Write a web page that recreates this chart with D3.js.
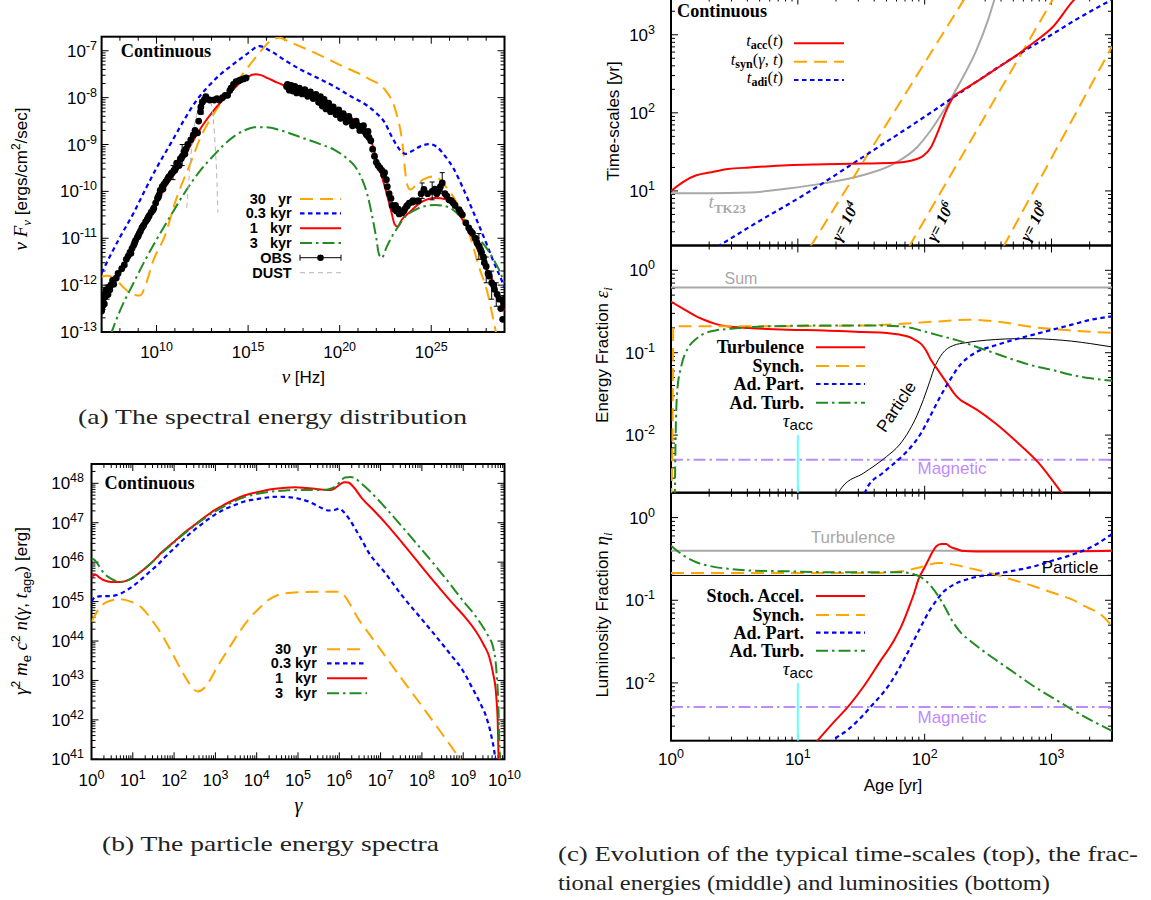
<!DOCTYPE html>
<html><head><meta charset="utf-8">
<script src="https://cdn.jsdelivr.net/npm/d3@7"></script>
<style>body{margin:0;background:#fff}svg{display:block}</style>
</head><body>
<svg id="fig" width="1151" height="900"></svg>
<script>
// ================= DATA (log10 values) =================
// (a) SED: [log10 nu, log10 nuFnu]
const sedLegend = ["30   yr", "0.3 kyr", "1   kyr", "3   kyr", "OBS", "DUST"];
const sed30yr = [[7.0,-11.82],[7.3,-11.8],[7.7,-11.85],[8.2,-12.05],[8.7,-12.2],[9.1,-12.22],[9.4,-12.0],[9.8,-11.5],[10.5,-10.9],[11.0,-10.25],[11.9,-9.35],[12.4,-8.85],[13.2,-8.3],[14.0,-7.85],[14.6,-7.55],[15.5,-7.1],[16.2,-6.8],[16.7,-6.72],[17.2,-6.8],[18.5,-7.02],[20.0,-7.3],[21.5,-7.58],[22.49,-7.84],[23.04,-8.26],[23.4,-8.89],[23.68,-9.85],[23.86,-9.96],[24.2,-9.85],[24.6,-9.74],[25.05,-9.68],[25.4,-9.72],[25.8,-9.9],[26.3,-10.18],[26.7,-10.5],[27.07,-10.89],[27.6,-11.6],[28.07,-12.16],[28.5,-12.94],[28.7,-13.3]];
const sed03kyr = [[7.0,-11.74],[7.5,-11.35],[8.0,-10.98],[8.75,-10.46],[9.4,-9.95],[10.0,-9.5],[10.8,-8.96],[11.5,-8.48],[12.2,-8.05],[12.8,-7.77],[13.5,-7.5],[14.25,-7.27],[15.0,-7.05],[15.62,-6.9],[16.2,-7.0],[17.0,-7.2],[17.91,-7.41],[18.8,-7.58],[19.74,-7.77],[20.6,-7.97],[21.57,-8.19],[22.0,-8.33],[22.49,-8.55],[22.8,-8.8],[23.04,-8.97],[23.3,-9.12],[23.59,-9.2],[23.9,-9.15],[24.4,-9.04],[24.87,-8.99],[25.3,-9.05],[25.78,-9.26],[26.2,-9.5],[26.7,-9.9],[27.2,-10.35],[27.62,-10.74],[28.0,-11.1],[28.35,-11.45],[28.9,-11.95],[29.0,-12.05]];
const sed1kyr = [[7.0,-12.45],[7.5,-12.1],[8.0,-11.75],[8.5,-11.4],[9.1,-10.9],[9.5,-10.6],[10.0,-10.25],[10.5,-9.9],[11.1,-9.55],[11.5,-9.28],[12.0,-8.92],[12.5,-8.6],[13.1,-8.28],[13.7,-8.02],[14.25,-7.8],[14.7,-7.63],[15.0,-7.55],[15.4,-7.5],[15.7,-7.52],[16.1,-7.59],[16.6,-7.68],[17.2,-7.78],[18.0,-7.92],[18.8,-8.05],[19.7,-8.22],[20.6,-8.42],[21.2,-8.6],[21.6,-8.8],[21.9,-9.15],[22.2,-9.55],[22.5,-9.95],[22.8,-10.4],[23.0,-10.7],[23.15,-10.75],[23.4,-10.6],[23.8,-10.45],[24.5,-10.22],[25.2,-10.14],[25.8,-10.17],[26.3,-10.35],[26.7,-10.6],[27.2,-10.95],[27.6,-11.3],[28.0,-11.62],[28.35,-11.9],[28.7,-12.25],[29.0,-12.55]];
const sed3kyr = [[7.5,-13.05],[8.0,-12.55],[8.75,-11.95],[9.4,-11.45],[10.0,-11.03],[10.8,-10.5],[11.5,-10.05],[12.3,-9.6],[13.15,-9.22],[13.7,-9.0],[14.25,-8.82],[14.8,-8.7],[15.35,-8.63],[16.0,-8.63],[16.8,-8.7],[17.9,-8.85],[19.0,-9.0],[19.74,-9.12],[20.4,-9.3],[20.84,-9.47],[21.2,-9.72],[21.5,-10.05],[21.76,-10.5],[22.0,-11.0],[22.15,-11.35],[22.3,-11.42],[22.55,-11.2],[22.86,-10.96],[23.2,-10.75],[23.6,-10.53],[24.0,-10.42],[24.5,-10.33],[25.2,-10.29],[25.9,-10.33],[26.5,-10.5],[27.06,-10.74],[27.6,-11.0],[28.0,-11.2],[28.4,-11.45],[28.7,-11.67],[29.0,-11.95]];
const sedDust = [[11.65,-10.35],[11.8,-9.6],[12.0,-8.8],[12.3,-8.2],[12.6,-7.98],[12.8,-7.93],[13.05,-8.3],[13.2,-9.0],[13.3,-9.8],[13.35,-10.45]];
const sedObsRadioIR = [[7.0,-12.55],[7.02,-12.35],[7.05,-12.45],[7.08,-12.3],[7.1,-12.2],[7.15,-12.4],[7.2,-12.25],[7.25,-12.1],[7.3,-12.15],[7.35,-12.2],[7.4,-12.05],[7.45,-12.1],[7.5,-12.0],[7.6,-11.9],[7.66,-11.98],[7.8,-11.85],[7.9,-11.75],[8.1,-11.65],[8.24,-11.57],[8.35,-11.45],[8.45,-11.38],[8.55,-11.3],[8.6,-11.32],[8.66,-11.22],[8.75,-11.15],[8.8,-11.1],[8.85,-11.05],[8.95,-10.98],[9.0,-10.95],[9.05,-10.9],[9.12,-10.85],[9.2,-10.78],[9.25,-10.75],[9.3,-10.72],[9.4,-10.65],[9.49,-10.6],[9.55,-10.55],[9.6,-10.52],[9.7,-10.45],[9.8,-10.4],[9.85,-10.36],[9.95,-10.25],[10.05,-10.15],[10.1,-10.12],[10.13,-10.08],[10.2,-9.98],[10.31,-9.9],[10.35,-9.95],[10.4,-9.85],[10.5,-9.8],[10.59,-9.75],[10.65,-9.7],[10.7,-9.68],[10.8,-9.62],[10.86,-9.6],[10.95,-9.55],[11.0,-9.55],[11.05,-9.5],[11.1,-9.4],[11.15,-9.42],[11.23,-9.45],[11.3,-9.3],[11.35,-9.3],[11.41,-9.25],[11.5,-9.15],[11.55,-9.2],[11.6,-9.1],[11.7,-9.0],[11.87,-8.9],[12.0,-8.8],[12.1,-8.7],[12.24,-8.75],[12.3,-8.5],[12.4,-8.3],[12.42,-8.2],[12.5,-8.1],[12.6,-8.05],[12.69,-7.98],[12.9,-8.05],[13.15,-8.05],[13.3,-8.02],[13.42,-8.05],[13.6,-8.0],[13.75,-7.95],[13.88,-7.95],[14.0,-7.85],[14.07,-7.8],[14.2,-7.72],[14.34,-7.66],[14.5,-7.64],[14.6,-7.62],[14.75,-7.6],[14.89,-7.58]];
const sedObsXray = [[17.1,-7.76],[17.15,-7.72],[17.2,-7.78],[17.25,-7.84],[17.3,-7.8],[17.35,-7.74],[17.4,-7.8],[17.45,-7.86],[17.5,-7.82],[17.55,-7.76],[17.6,-7.83],[17.65,-7.9],[17.75,-7.85],[17.8,-7.8],[17.9,-7.86],[17.95,-7.92],[18.05,-7.88],[18.1,-7.83],[18.2,-7.9],[18.25,-7.97],[18.35,-7.93],[18.4,-7.88],[18.5,-7.96],[18.55,-8.02],[18.64,-7.98],[18.7,-7.93],[18.8,-8.02],[18.85,-8.1],[18.9,-8.08],[18.95,-7.98],[19.0,-8.12],[19.05,-8.18],[19.1,-8.1],[19.15,-8.04],[19.2,-8.16],[19.25,-8.24],[19.3,-8.18],[19.4,-8.12],[19.45,-8.2],[19.5,-8.3],[19.56,-8.23],[19.65,-8.2],[19.7,-8.28],[19.8,-8.36],[19.85,-8.3],[19.95,-8.26],[20.0,-8.36],[20.05,-8.44],[20.1,-8.4],[20.2,-8.34],[20.3,-8.44],[20.35,-8.52],[20.45,-8.47],[20.5,-8.4],[20.6,-8.5],[20.7,-8.6],[20.8,-8.56],[20.9,-8.5],[21.0,-8.6],[21.1,-8.7],[21.2,-8.65],[21.3,-8.6],[21.35,-8.72],[21.45,-8.78],[21.5,-8.8],[21.55,-8.72],[21.6,-8.85],[21.7,-8.92],[21.8,-9.1],[21.9,-9.25],[22.0,-9.38],[22.1,-9.45],[22.2,-9.5],[22.3,-9.55],[22.4,-9.65],[22.45,-9.6],[22.55,-9.75],[22.6,-9.9],[22.7,-10.05],[22.8,-10.15],[22.86,-10.3]];
const sedObsGamma = [[23.0,-10.38],[23.05,-10.3],[23.1,-10.42],[23.2,-10.38],[23.25,-10.48],[23.3,-10.45],[23.4,-10.46],[23.5,-10.42],[23.55,-10.38],[23.65,-10.32],[23.7,-10.3],[23.8,-10.25],[23.95,-10.23],[24.0,-10.2],[24.14,-10.21],[24.3,-10.2],[24.45,-10.05],[24.6,-9.96],[24.8,-10.05],[25.05,-10.0],[25.2,-9.95],[25.3,-10.05],[25.4,-9.98],[25.5,-9.9],[25.6,-9.82],[25.75,-10.05],[25.85,-10.1],[25.97,-10.18],[26.1,-10.2],[26.2,-10.25],[26.3,-10.3],[26.52,-10.39],[26.6,-10.45],[26.7,-10.5],[26.89,-10.67],[27.05,-10.78],[27.15,-10.85],[27.25,-10.89],[27.4,-11.0],[27.5,-11.1],[27.62,-11.17],[27.7,-11.25],[27.75,-11.3],[27.85,-11.4],[27.9,-11.52],[28.0,-11.6],[28.1,-11.75],[28.17,-11.81],[28.3,-11.95],[28.4,-12.0],[28.45,-12.09],[28.6,-12.2],[28.72,-12.3],[28.8,-12.5],[28.9,-12.73],[28.95,-12.4],[29.0,-12.3]];
const sedObsErr = [[7.3,-12.3,-12.0],[10.9,-9.75,-9.45],[11.4,-9.45,-9.0],[12.45,-8.35,-8.05],[24.5,-10.15,-9.82],[25.05,-10.18,-9.8],[25.6,-10.05,-9.6],[27.6,-11.45,-10.9],[28.0,-11.95,-11.4],[28.3,-12.3,-11.7],[28.55,-12.45,-11.95]];
const sedXLabels = [10, 15, 20, 25];
const sedYLabels = [-13, -12, -11, -10, -9, -8, -7];

// (b) particle spectra: [log10 gamma, log10 value]
const specLegend = ["30   yr", "0.3 kyr", "1   kyr", "3   kyr"];
const spec30yr = [[0,44.49],[0.22,44.87],[0.45,45.02],[0.71,45.06],[0.95,45.0],[1.19,44.87],[1.45,44.55],[1.68,44.2],[1.95,43.7],[2.17,43.27],[2.35,42.95],[2.45,42.8],[2.57,42.72],[2.7,42.78],[2.82,42.93],[3.05,43.35],[3.3,43.77],[3.55,44.18],[3.79,44.53],[4.05,44.82],[4.28,45.04],[4.5,45.16],[4.68,45.21],[5.0,45.24],[5.5,45.25],[5.98,45.25],[6.5,44.5],[7.0,43.78],[7.5,43.06],[8.0,42.35],[8.5,41.63],[9.0,40.9]];
const spec03kyr = [[0,45.0],[0.1,45.12],[0.3,45.14],[0.46,45.14],[0.7,45.2],[0.87,45.3],[1.05,45.43],[1.19,45.55],[1.4,45.75],[1.6,45.93],[1.8,46.15],[2.0,46.35],[2.25,46.6],[2.49,46.82],[2.75,47.03],[2.98,47.2],[3.2,47.33],[3.47,47.45],[3.7,47.54],[3.95,47.59],[4.25,47.64],[4.52,47.66],[4.85,47.64],[5.05,47.6],[5.25,47.54],[5.45,47.44],[5.6,47.36],[5.75,47.31],[5.9,47.33],[6.0,47.36],[6.1,47.28],[6.25,47.08],[6.39,46.84],[6.55,46.55],[6.71,46.25],[7.1,45.74],[7.52,45.15],[8.0,44.55],[8.34,44.12],[8.7,43.65],[8.98,43.27],[9.2,42.85],[9.4,42.45],[9.55,42.1],[9.68,41.6],[9.76,41.15],[9.8,40.8]];
const spec1kyr = [[0,45.63],[0.1,45.68],[0.2,45.6],[0.46,45.5],[0.71,45.5],[0.9,45.55],[1.03,45.63],[1.25,45.8],[1.44,45.97],[1.7,46.25],[2.0,46.52],[2.25,46.75],[2.49,46.94],[2.75,47.15],[2.98,47.32],[3.2,47.45],[3.47,47.59],[3.7,47.69],[3.95,47.76],[4.2,47.82],[4.44,47.86],[4.7,47.89],[4.93,47.9],[5.2,47.88],[5.41,47.86],[5.6,47.84],[5.74,47.83],[5.85,47.85],[5.95,47.92],[6.05,48.0],[6.12,48.03],[6.22,48.02],[6.35,47.9],[6.55,47.62],[6.8,47.35],[7.12,46.99],[7.5,46.52],[7.93,45.97],[8.34,45.45],[8.74,44.96],[9.05,44.6],[9.31,44.24],[9.5,43.9],[9.63,43.6],[9.72,43.2],[9.8,42.6],[9.84,41.8],[9.86,40.8]];
const spec3kyr = [[0,46.1],[0.08,46.05],[0.14,45.97],[0.3,45.72],[0.46,45.59],[0.71,45.5],[0.9,45.55],[1.03,45.63],[1.25,45.8],[1.44,45.97],[1.7,46.23],[2.0,46.5],[2.25,46.73],[2.49,46.92],[2.75,47.12],[2.98,47.28],[3.2,47.41],[3.47,47.55],[3.7,47.65],[3.95,47.72],[4.2,47.77],[4.44,47.8],[4.7,47.82],[4.93,47.83],[5.2,47.83],[5.41,47.83],[5.6,47.83],[5.75,47.85],[5.9,47.92],[6.0,48.02],[6.14,48.15],[6.28,48.16],[6.39,48.12],[6.55,47.98],[6.71,47.83],[7.1,47.4],[7.52,46.9],[7.93,46.4],[8.34,45.89],[8.7,45.42],[8.98,45.04],[9.25,44.7],[9.47,44.37],[9.62,44.1],[9.72,43.86],[9.8,43.3],[9.85,42.4],[9.88,41.3],[9.9,40.8]];
const specXLabels = [0,1,2,3,4,5,6,7,8,9,10];
const specYLabels = [41,42,43,44,45,46,47,48];

// (c) top: time-scales [log10 age, log10 years]
const tAcc = [[0,1.0],[0.11,1.13],[0.2,1.2],[0.32,1.24],[0.45,1.28],[0.62,1.3],[0.92,1.33],[1.21,1.34],[1.51,1.35],[1.76,1.36],[1.9,1.39],[1.99,1.45],[2.05,1.56],[2.11,1.78],[2.17,2.03],[2.23,2.21],[2.29,2.28],[2.41,2.4],[2.56,2.56],[2.71,2.72],[2.86,2.9],[3.01,3.1],[3.18,3.45],[3.25,3.55]];
const tAdi = [[0.365,0.283],[0.6,0.52],[1.1,1.0],[1.5,1.42],[2.0,1.95],[2.3,2.28],[2.71,2.72],[3.0,3.0],[3.2,3.2],[3.477,3.45]];
const tTK23 = [[0,0.97],[0.3,0.97],[0.62,0.98],[0.92,1.03],[1.21,1.1],[1.51,1.2],[1.76,1.35],[1.94,1.56],[2.05,1.78],[2.17,2.08],[2.29,2.42],[2.41,2.81],[2.5,3.19],[2.55,3.45],[2.58,3.6]];
const tSynGamma4 = [[1.098,0.283],[2.31,3.45]];
const tSynGamma6 = [[1.876,0.283],[3.01,3.45]];
const tSynGamma8 = [[2.62,0.283],[3.477,2.85]];
const tSynLabels = ["4", "6", "8"];
const timeYLabels = [1, 2, 3];

// (c) middle: energy fractions
const energySum = [[0,-0.21],[3.477,-0.21]];
const energyTurb = [[0,-0.38],[0.11,-0.48],[0.2,-0.56],[0.26,-0.6],[0.35,-0.65],[0.44,-0.68],[0.62,-0.7],[0.92,-0.72],[1.21,-0.73],[1.51,-0.75],[1.7,-0.76],[1.8,-0.78],[1.88,-0.81],[1.93,-0.85],[1.97,-0.89],[2.01,-0.97],[2.05,-1.09],[2.1,-1.2],[2.14,-1.29],[2.19,-1.4],[2.23,-1.49],[2.28,-1.57],[2.32,-1.61],[2.41,-1.69],[2.56,-1.86],[2.71,-2.06],[2.9,-2.34],[3.07,-2.68],[3.15,-2.85]];
const energySynch = [[0,-2.8],[0.012,-2.0],[0.018,-0.68],[0.1,-0.68],[0.62,-0.68],[1.51,-0.67],[1.82,-0.65],[2.0,-0.63],[2.11,-0.62],[2.35,-0.6],[2.56,-0.62],[2.86,-0.69],[3.16,-0.73],[3.477,-0.76]];
const energyAdPart = [[1.5,-2.8],[1.55,-2.63],[1.67,-2.46],[1.82,-2.26],[1.9,-2.13],[1.97,-1.98],[2.04,-1.78],[2.11,-1.57],[2.2,-1.33],[2.29,-1.13],[2.35,-1.05],[2.41,-0.99],[2.56,-0.91],[2.71,-0.84],[2.86,-0.78],[3.01,-0.72],[3.16,-0.66],[3.31,-0.6],[3.477,-0.56]];
const energyAdTurb = [[0.03,-2.8],[0.036,-2.06],[0.05,-1.45],[0.08,-1.17],[0.14,-0.93],[0.2,-0.83],[0.26,-0.77],[0.35,-0.73],[0.47,-0.71],[0.77,-0.68],[1.21,-0.67],[1.6,-0.67],[1.82,-0.68],[1.9,-0.7],[1.97,-0.73],[2.11,-0.79],[2.26,-0.85],[2.41,-0.93],[2.56,-1.01],[2.71,-1.09],[2.86,-1.16],[3.01,-1.21],[3.16,-1.27],[3.31,-1.31],[3.477,-1.34]];
const energyParticle = [[1.3,-2.75],[1.35,-2.63],[1.52,-2.46],[1.7,-2.26],[1.8,-2.12],[1.88,-1.94],[1.94,-1.76],[1.99,-1.57],[2.04,-1.35],[2.08,-1.17],[2.11,-1.08],[2.14,-1.01],[2.18,-0.95],[2.23,-0.91],[2.32,-0.88],[2.41,-0.86],[2.56,-0.84],[2.71,-0.83],[2.86,-0.83],[3.01,-0.84],[3.16,-0.86],[3.31,-0.89],[3.477,-0.93]];
const energyMagnetic = [[0,-2.3],[3.477,-2.3]];
const energyLegend = ["Turbulence", "Synch.", "Ad. Part.", "Ad. Turb."];

// (c) bottom: luminosity fractions
const lumTurb = [[0,-0.4],[3.477,-0.4]];
const lumParticle = [[0,-0.7],[3.477,-0.7]];
const lumAccel = [[1.1,-2.8],[1.16,-2.69],[1.28,-2.48],[1.4,-2.28],[1.52,-2.04],[1.64,-1.76],[1.76,-1.48],[1.82,-1.3],[1.88,-1.07],[1.92,-0.9],[1.95,-0.75],[2.0,-0.6],[2.03,-0.51],[2.06,-0.42],[2.09,-0.35],[2.13,-0.32],[2.17,-0.32],[2.2,-0.35],[2.25,-0.38],[2.29,-0.4],[2.41,-0.41],[2.71,-0.41],[3.0,-0.41],[3.477,-0.4]];
const lumSynch = [[0,-0.67],[0.62,-0.67],[1.21,-0.67],[1.6,-0.67],[1.82,-0.65],[1.97,-0.6],[2.11,-0.55],[2.15,-0.55],[2.2,-0.56],[2.35,-0.61],[2.56,-0.69],[2.71,-0.76],[2.86,-0.83],[3.01,-0.91],[3.16,-0.99],[3.3,-1.1],[3.37,-1.15],[3.477,-1.31]];
const lumAdPart = [[1.2,-2.8],[1.28,-2.69],[1.4,-2.56],[1.58,-2.28],[1.73,-2.0],[1.85,-1.68],[1.97,-1.32],[2.04,-1.12],[2.08,-1.03],[2.14,-0.91],[2.23,-0.81],[2.35,-0.74],[2.56,-0.68],[2.71,-0.64],[2.86,-0.59],[3.01,-0.52],[3.16,-0.45],[3.31,-0.36],[3.477,-0.2]];
const lumAdTurb = [[0,-0.34],[0.11,-0.47],[0.2,-0.54],[0.32,-0.59],[0.45,-0.62],[0.62,-0.64],[0.92,-0.65],[1.21,-0.66],[1.6,-0.66],[1.82,-0.66],[1.9,-0.68],[1.97,-0.72],[2.05,-0.83],[2.14,-1.03],[2.23,-1.28],[2.29,-1.4],[2.35,-1.48],[2.45,-1.6],[2.56,-1.72],[2.71,-1.88],[2.86,-2.04],[3.01,-2.18],[3.16,-2.32],[3.31,-2.45],[3.477,-2.58]];
const lumMagnetic = [[0,-2.29],[3.477,-2.29]];
const lumLegend = ["Stoch. Accel.", "Synch.", "Ad. Part.", "Ad. Turb."];
const tauAcc = 10;
const ageXLabels = [0, 1, 2, 3];
const fracYLabels = [-2, -1, 0];

// ================= DRAWING =================
const SANS = "'Liberation Sans', Arial, Helvetica, sans-serif";
const SERIF = "'Liberation Serif', 'Times New Roman', serif";
const P = v => Math.pow(10, v);
const svg = d3.select("#fig");
svg.append("rect").attr("width",1151).attr("height",900).attr("fill","#fff");

const C = { orange:"#ffa500", blue:"#0000ff", red:"#ff0000", green:"#228b22", grey:"#a8a8a8", lav:"#c08aff", cyan:"#66ffff" };
const S = {
  orange:{stroke:C.orange, w:2, dash:"13,7"},
  blue:{stroke:C.blue, w:2.2, dash:"4.5,3.5"},
  red:{stroke:C.red, w:2, dash:null},
  green:{stroke:C.green, w:2, dash:"12,4,2.5,4"},
  grey:{stroke:C.grey, w:2, dash:null},
  black:{stroke:"#000", w:1, dash:null},
  lav:{stroke:C.lav, w:2, dash:"12,4,2.5,4"},
  dust:{stroke:"#b4b4b4", w:1, dash:"5,4"}
};

function rich(sel, parts) {
  let cur = 0;
  parts.forEach(p => {
    const sh = p.sh || 0;
    const ts = sel.append("tspan").text(p.t);
    if (sh !== cur) { ts.attr("dy", sh - cur); cur = sh; }
    if (p.f) ts.style("font-family", p.f);
    if (p.s) ts.style("font-size", p.s + "px");
    if (p.i) ts.style("font-style", "italic");
    if (p.b) ts.style("font-weight", "bold");
  });
  return sel;
}
function txt(g, x, y, o) {
  const t = g.append("text").attr("x", x).attr("y", y)
    .attr("text-anchor", o.anchor || "start")
    .style("font-family", o.f || SANS).style("font-size", (o.s || 17) + "px")
    .style("white-space", "pre").attr("fill", o.c || "#000");
  if (o.b) t.style("font-weight", "bold");
  if (o.i) t.style("font-style", "italic");
  if (o.rot !== undefined) t.attr("x", null).attr("y", null).attr("transform", `translate(${x},${y}) rotate(${o.rot})`);
  if (o.tl) t.attr("textLength", o.tl).attr("lengthAdjust", "spacingAndGlyphs");
  if (o.text !== undefined) t.text(o.text);
  if (o.parts) rich(t, o.parts);
  return t;
}
function powLabel(g, x, y, e, anchor) {
  txt(g, x, y, {anchor, s:17, parts:[{t:"10"},{t:String(e), s:12.5, sh:-7}]});
}
function logTicks(dom, majorLen, minorLen, minors, stepMajor) {
  const out = [];
  const e0 = Math.floor(Math.log10(dom[0]) + 1e-9), e1 = Math.ceil(Math.log10(dom[1]) - 1e-9);
  for (let e = e0; e <= e1; e++) {
    const len = (stepMajor && e % stepMajor !== 0) ? minorLen : majorLen;
    out.push({v:P(e), l:len});
    if (minors) for (let m = 2; m <= 9; m++) out.push({v:m*P(e), l:minorLen});
  }
  return out.filter(t => t.v >= dom[0]*0.9999 && t.v <= dom[1]*1.0001);
}
function frame(g, xs, ys, xt, yt) {
  const [xa, xb] = xs.range(); const [yb, ya] = ys.range();
  const tk = g.append("g").attr("stroke", "#000").attr("stroke-width", 1);
  xt.forEach(t => { const x = xs(t.v);
    tk.append("line").attr("x1",x).attr("x2",x).attr("y1",yb).attr("y2",yb - t.l);
    tk.append("line").attr("x1",x).attr("x2",x).attr("y1",ya).attr("y2",ya + t.l); });
  yt.forEach(t => { const y = ys(t.v);
    tk.append("line").attr("x1",xa).attr("x2",xa + t.l).attr("y1",y).attr("y2",y);
    tk.append("line").attr("x1",xb).attr("x2",xb - t.l).attr("y1",y).attr("y2",y); });
  g.append("rect").attr("x",xa).attr("y",ya).attr("width",xb-xa).attr("height",yb-ya)
    .attr("fill","none").attr("stroke","#000").attr("stroke-width",2);
}
let clipN = 0;
function clipFor(xs, ys) {
  const id = "clip" + (clipN++);
  const [xa, xb] = xs.range(); const [yb, ya] = ys.range();
  svg.append("clipPath").attr("id", id).append("rect").attr("x",xa).attr("y",ya).attr("width",xb-xa).attr("height",yb-ya);
  return svg.append("g").attr("clip-path", `url(#${id})`);
}
function curve(g, xs, ys, data, st) {
  const ln = d3.line().x(d => xs(P(d[0]))).y(d => ys(P(d[1]))).curve(d3.curveMonotoneX);
  const p = g.append("path").attr("d", ln(data)).attr("fill","none")
    .attr("stroke", st.stroke).attr("stroke-width", st.w).attr("stroke-linejoin","round");
  if (st.dash) p.attr("stroke-dasharray", st.dash);
  return p;
}
function legLine(g, x1, x2, y, st) {
  const p = g.append("line").attr("x1",x1).attr("x2",x2).attr("y1",y).attr("y2",y)
    .attr("stroke", st.stroke).attr("stroke-width", st.w);
  if (st.dash) p.attr("stroke-dasharray", st.dash);
}

// ---------- (a) SED ----------
{
  const xs = d3.scaleLog().domain([P(7), P(29)]).range([101.6, 504.5]);
  const ys = d3.scaleLog().domain([P(-13), P(-6.7)]).range([332, 36.7]);
  const g = svg.append("g");
  const cg = clipFor(xs, ys);
  curve(cg, xs, ys, sed30yr, S.orange);
  curve(cg, xs, ys, sed03kyr, S.blue);
  curve(cg, xs, ys, sed1kyr, S.red);
  curve(cg, xs, ys, sed3kyr, S.green);
  curve(cg, xs, ys, sedDust, S.dust);
  sedObsErr.forEach(d => {
    const x = xs(P(d[0]));
    cg.append("line").attr("x1",x).attr("x2",x).attr("y1",ys(P(d[1]))).attr("y2",ys(P(d[2]))).attr("stroke","#000").attr("stroke-width",1);
    [d[1], d[2]].forEach(v => cg.append("line").attr("x1",x-2.5).attr("x2",x+2.5).attr("y1",ys(P(v))).attr("y2",ys(P(v))).attr("stroke","#000").attr("stroke-width",1));
  });
  const obs = sedObsRadioIR.concat(sedObsXray, sedObsGamma);
  cg.selectAll("circle.obs").data(obs).join("circle").attr("class","obs")
    .attr("cx", d => xs(P(d[0]))).attr("cy", d => ys(P(d[1]))).attr("r", 3.4).attr("fill","#000");
  frame(g, xs, ys, logTicks(xs.domain(), 7, 4, false, 5), logTicks(ys.domain(), 7, 4, true));
  sedXLabels.forEach(e => powLabel(g, xs(P(e)), 358, e, "middle"));
  sedYLabels.forEach(e => powLabel(g, 97, ys(P(e)) + 6, e, "end"));
  txt(g, 120.7, 57, {f:SERIF, b:true, s:18, text:"Continuous", tl:90.5});
  const legY = [199, 213.3, 228.3, 243, 257.7, 272.7];
  const legSt = [S.orange, S.blue, S.red, S.green];
  sedLegend.forEach((t, i) => txt(g, 291.7, legY[i] + 5, {anchor:"end", b:true, s:14.5, text:t}));
  legSt.forEach((st, i) => legLine(g, 300, 341, legY[i], st));
  legLine(g, 300, 341, legY[4], {stroke:"#000", w:1});
  [300, 341].forEach(x => g.append("line").attr("x1",x).attr("x2",x).attr("y1",legY[4]-3).attr("y2",legY[4]+3).attr("stroke","#000"));
  g.append("circle").attr("cx",320.5).attr("cy",legY[4]).attr("r",3.3).attr("fill","#000");
  legLine(g, 300, 341, legY[5], S.dust);
  txt(g, 27, 179, {rot:-90, anchor:"middle", s:17, parts:[
    {t:"ν", f:SERIF, i:true, s:19},{t:" "},{t:"F", f:SERIF, i:true, s:19},{t:"ν", f:SERIF, i:true, s:13, sh:4},
    {t:" [ergs/cm", s:17},{t:"2", s:12, sh:-7},{t:"/sec]", s:17}]});
  txt(g, 303.4, 383, {anchor:"middle", s:17, parts:[{t:"ν", f:SERIF, i:true, s:19},{t:" [Hz]"}]});
  txt(g, 78, 424, {f:SERIF, s:21, c:"#222", text:"(a) The spectral energy distribution", tl:389});
}

// ---------- (b) particle spectra ----------
{
  const xs = d3.scaleLog().domain([1, P(10)]).range([91.5, 504.5]);
  const ys = d3.scaleLog().domain([P(41), P(48.49)]).range([759.3, 464]);
  const g = svg.append("g");
  const cg = clipFor(xs, ys);
  curve(cg, xs, ys, spec30yr, S.orange);
  curve(cg, xs, ys, spec03kyr, S.blue);
  curve(cg, xs, ys, spec1kyr, S.red);
  curve(cg, xs, ys, spec3kyr, S.green);
  frame(g, xs, ys, logTicks(xs.domain(), 7, 4, true), logTicks(ys.domain(), 7, 4, true));
  specXLabels.forEach(e => powLabel(g, xs(P(e)), 786, e, "middle"));
  specYLabels.forEach(e => powLabel(g, 84, ys(P(e)) + 6, e, "end"));
  txt(g, 104.6, 489, {f:SERIF, b:true, s:18, text:"Continuous", tl:90});
  const legY = [649.3, 663.3, 678.3, 693.3];
  const legSt = [S.orange, S.blue, S.red, S.green];
  specLegend.forEach((t, i) => { txt(g, 316.8, legY[i] + 5, {anchor:"end", b:true, s:14.5, text:t}); legLine(g, 327, 367, legY[i], legSt[i]); });
  txt(g, 27, 611, {rot:-90, anchor:"middle", s:17, parts:[
    {t:"γ", f:SERIF, i:true, s:19},{t:"2", s:12, sh:-7},{t:" ", sh:0},{t:"m", f:SERIF, i:true, s:19},{t:"e", s:13, sh:4},
    {t:" ", sh:0},{t:"c", f:SERIF, i:true, s:19},{t:"2", s:12, sh:-7},{t:" ", sh:0},{t:"n", f:SERIF, i:true, s:19},
    {t:"(", s:17},{t:"γ", f:SERIF, i:true, s:19},{t:", ", s:17},{t:"t", f:SERIF, i:true, s:19},{t:"age", s:13, sh:4},
    {t:") [erg]", s:17, sh:0}]});
  txt(g, 298.4, 812, {anchor:"middle", f:SERIF, i:true, s:20, text:"γ"});
  txt(g, 102, 851, {f:SERIF, s:21, c:"#222", text:"(b) The particle energy spectra", tl:337});
}

// ---------- (c) evolution ----------
{
  const xs = d3.scaleLog().domain([1, 3000]).range([671, 1112]);
  const xt = logTicks(xs.domain(), 7, 4, true);
  const g = svg.append("g");

  // top: time-scales
  const ysT = d3.scaleLog().domain([2, 3000]).range([245.5, -2.5]);
  const cT = clipFor(xs, ysT);
  curve(cT, xs, ysT, tTK23, S.grey);
  curve(cT, xs, ysT, tSynGamma4, S.orange);
  curve(cT, xs, ysT, tSynGamma6, S.orange);
  curve(cT, xs, ysT, tSynGamma8, S.orange);
  curve(cT, xs, ysT, tAdi, S.blue);
  curve(cT, xs, ysT, tAcc, S.red);
  frame(g, xs, ysT, xt, logTicks(ysT.domain(), 7, 4, true));
  timeYLabels.forEach(e => powLabel(g, 655, ysT(P(e)) + 6, e, "end"));
  txt(g, 677, 17, {f:SERIF, b:true, s:18, text:"Continuous", tl:90});
  const tLegY = [43.3, 61.7, 80];
  const tParts = [
    [{t:"t", i:true},{t:"acc", b:true, s:12, sh:3},{t:"(", sh:0},{t:"t", i:true},{t:")"}],
    [{t:"t", i:true},{t:"syn", b:true, s:12, sh:3},{t:"(", sh:0},{t:"γ", i:true},{t:", "},{t:"t", i:true},{t:")"}],
    [{t:"t", i:true},{t:"adi", b:true, s:12, sh:3},{t:"(", sh:0},{t:"t", i:true},{t:")"}]];
  const tSt = [S.red, S.orange, S.blue];
  tParts.forEach((pp, i) => { txt(g, 783, tLegY[i] + 3, {anchor:"end", f:SERIF, s:16.5, parts:pp}); legLine(g, 794, 844, tLegY[i], tSt[i]); });
  txt(g, 708.6, 208, {f:SERIF, s:19, c:C.grey, parts:[{t:"t", i:true},{t:"TK23", b:true, s:13, sh:5}]});
  const synLabelX = [850, 945, 1038.5];
  tSynLabels.forEach((e, i) => txt(g, synLabelX[i], 224, {rot:-63, anchor:"middle", f:SERIF, b:true, i:true, s:16,
    parts:[{t:"γ"},{t:"= 10"},{t:e, s:11.5, sh:-6}]}));
  txt(g, 619, 121, {rot:-90, anchor:"middle", s:17, text:"Time-scales [yr]"});

  // middle: energy fractions
  const ysM = d3.scaleLog().domain([0.002, 2]).range([492.7, 245.5]);
  const cM = clipFor(xs, ysM);
  curve(cM, xs, ysM, energySum, S.grey);
  curve(cM, xs, ysM, energyMagnetic, S.lav);
  curve(cM, xs, ysM, energyParticle, S.black);
  curve(cM, xs, ysM, energyTurb, S.red);
  curve(cM, xs, ysM, energySynch, S.orange);
  curve(cM, xs, ysM, energyAdPart, S.blue);
  curve(cM, xs, ysM, energyAdTurb, S.green);
  cM.append("line").attr("x1", xs(tauAcc)).attr("x2", xs(tauAcc)).attr("y1", ysM(0.01)).attr("y2", 492.7).attr("stroke", C.cyan).attr("stroke-width", 2);
  frame(g, xs, ysM, xt, logTicks(ysM.domain(), 7, 4, true));
  fracYLabels.forEach(e => powLabel(g, 655, ysM(P(e)) + 6, e, "end"));
  const legSt = [S.red, S.orange, S.blue, S.green];
  const eLegY = [347.3, 366, 384, 402.7];
  energyLegend.forEach((t, i) => { txt(g, 804, eLegY[i] + 6, {anchor:"end", f:SERIF, b:true, s:18, text:t}); legLine(g, 816, 865, eLegY[i], legSt[i]); });
  txt(g, 741, 284, {anchor:"middle", s:16, c:C.grey, text:"Sum"});
  txt(g, 952, 474, {anchor:"middle", s:17, c:C.lav, text:"Magnetic"});
  txt(g, 901, 410, {rot:-56, anchor:"middle", s:17, text:"Particle"});
  txt(g, xs(tauAcc), 426.5, {anchor:"middle", parts:[{t:"τ", f:SERIF, i:true, s:19},{t:"acc", s:15, sh:3}]});
  txt(g, 608, 355, {rot:-90, anchor:"middle", s:17, parts:[{t:"Energy Fraction "},{t:"ε", f:SERIF, i:true, s:19},{t:"i", f:SERIF, i:true, s:13, sh:4}]});

  // bottom: luminosity fractions
  const ysB = d3.scaleLog().domain([0.002, 2]).range([740.7, 492.7]);
  const cB = clipFor(xs, ysB);
  curve(cB, xs, ysB, lumTurb, S.grey);
  curve(cB, xs, ysB, lumParticle, S.black);
  curve(cB, xs, ysB, lumMagnetic, S.lav);
  curve(cB, xs, ysB, lumAccel, S.red);
  curve(cB, xs, ysB, lumSynch, S.orange);
  curve(cB, xs, ysB, lumAdPart, S.blue);
  curve(cB, xs, ysB, lumAdTurb, S.green);
  cB.append("line").attr("x1", xs(tauAcc)).attr("x2", xs(tauAcc)).attr("y1", ysB(0.01)).attr("y2", 740.7).attr("stroke", C.cyan).attr("stroke-width", 2);
  frame(g, xs, ysB, xt, logTicks(ysB.domain(), 7, 4, true));
  fracYLabels.forEach(e => powLabel(g, 655, ysB(P(e)) + 6, e, "end"));
  const lLegY = [596, 615, 632.7, 650.7];
  lumLegend.forEach((t, i) => { txt(g, 804, lLegY[i] + 6, {anchor:"end", f:SERIF, b:true, s:18, text:t}); legLine(g, 816, 865, lLegY[i], legSt[i]); });
  txt(g, 853, 543, {anchor:"middle", s:17, c:C.grey, text:"Turbulence"});
  txt(g, 1070, 573, {anchor:"middle", s:17, text:"Particle"});
  txt(g, 952, 723, {anchor:"middle", s:17, c:C.lav, text:"Magnetic"});
  txt(g, xs(tauAcc), 675, {anchor:"middle", parts:[{t:"τ", f:SERIF, i:true, s:19},{t:"acc", s:15, sh:3}]});
  txt(g, 608, 615, {rot:-90, anchor:"middle", s:17, parts:[{t:"Luminosity Fraction "},{t:"η", f:SERIF, i:true, s:19},{t:"i", f:SERIF, i:true, s:13, sh:4}]});
  ageXLabels.forEach(e => powLabel(g, xs(P(e)), 765, e, "middle"));
  txt(g, 893, 791, {anchor:"middle", s:17, text:"Age [yr]"});
  txt(g, 558, 861, {f:SERIF, s:21, c:"#222", text:"(c) Evolution of the typical time-scales (top), the frac-", tl:580});
  txt(g, 558, 890, {f:SERIF, s:21, c:"#222", text:"tional energies (middle) and luminosities (bottom)", tl:492});
}
</script>
</body></html>
